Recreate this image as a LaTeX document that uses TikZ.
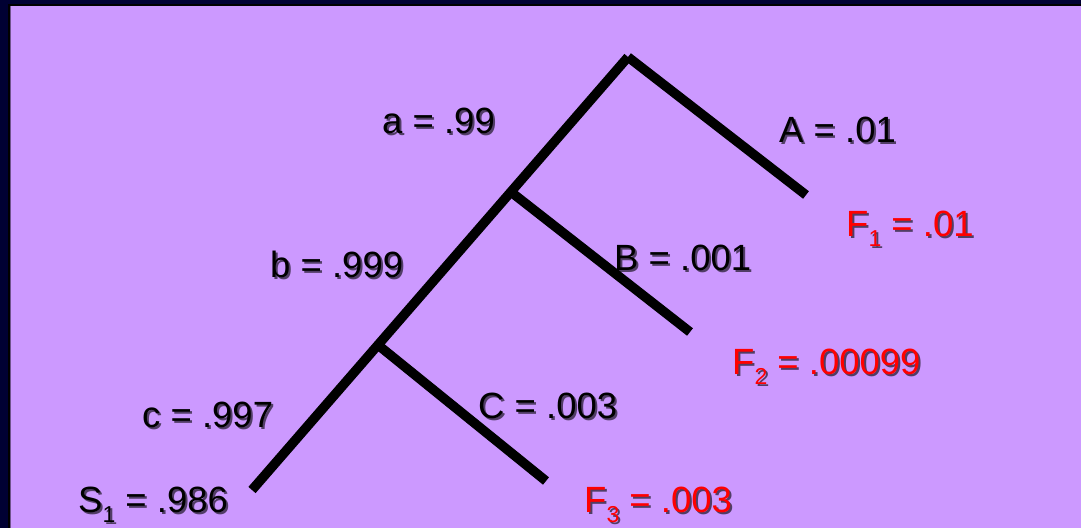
\documentclass[tikz,border=0pt]{standalone}
\usepackage{fontspec}
\setmainfont{Liberation Sans}
\definecolor{navy}{HTML}{000033}
\definecolor{lilac}{HTML}{CC99FF}
\definecolor{redtxt}{HTML}{FF0000}
\newcommand\mysub[1]{\raisebox{-0.3em}{\fontsize{23}{25}\selectfont #1}}
\newcommand\shlabel[4]{%
  \node[lbl, text=black, opacity=0.6, xshift=2pt, yshift=-2pt] at (#2) {#4};
  \node[lbl, text=#3] (#1) at (#2) {#4};}
\begin{document}
\begin{tikzpicture}[x=1pt,y=-1pt,
  lbl/.style={anchor=base west, inner sep=0pt, font=\fontsize{36.5}{40}\selectfont},
  branch/.style={line width=9.5pt, line cap=butt, draw=black}]
\useasboundingbox (0,0) rectangle (1081,528);
\fill[navy] (0,0) rectangle (1081,528);
\fill[black] (8,4) rectangle (1081,528);
\fill[black!45!lilac] (10,6) rectangle (1081,528);
\fill[lilac] (11,6) rectangle (1081,528);
% tree
\coordinate (top) at (628,57);
\coordinate (Aend) at (806,195);
\coordinate (jb) at (511,192);
\coordinate (Bend) at (690,332);
\coordinate (jc) at (378,345);
\coordinate (Cend) at (546,481);
\coordinate (Send) at (252,490);
\draw[branch] (Send) -- (top);
\draw[branch] (top) -- (Aend);
\draw[branch] (jb) -- (Bend);
\draw[branch] (jc) -- (Cend);
% labels
\coordinate (pa) at (382,133);
\coordinate (pA) at (779,142);
\coordinate (pF1) at (846,236);
\coordinate (pb) at (270,277);
\coordinate (pB) at (614,270);
\coordinate (pF2) at (732,374);
\coordinate (pc) at (142,427);
\coordinate (pC) at (478,418);
\coordinate (pF3) at (584,512);
\coordinate (pS) at (78,512);
\shlabel{la}{pa}{black}{a = .99}
\shlabel{lA}{pA}{black}{A = .01}
\shlabel{lF1}{pF1}{redtxt}{F\mysub{1} = .01}
\shlabel{lb}{pb}{black}{b = .999}
\shlabel{lB}{pB}{black}{B = .001}
\shlabel{lF2}{pF2}{redtxt}{F\mysub{2} = .00099}
\shlabel{lc}{pc}{black}{c = .997}
\shlabel{lC}{pC}{black}{C = .003}
\shlabel{lF3}{pF3}{redtxt}{F\mysub{3} = .003}
\shlabel{lS}{pS}{black}{S\mysub{1} = .986}
\end{tikzpicture}
\end{document}
